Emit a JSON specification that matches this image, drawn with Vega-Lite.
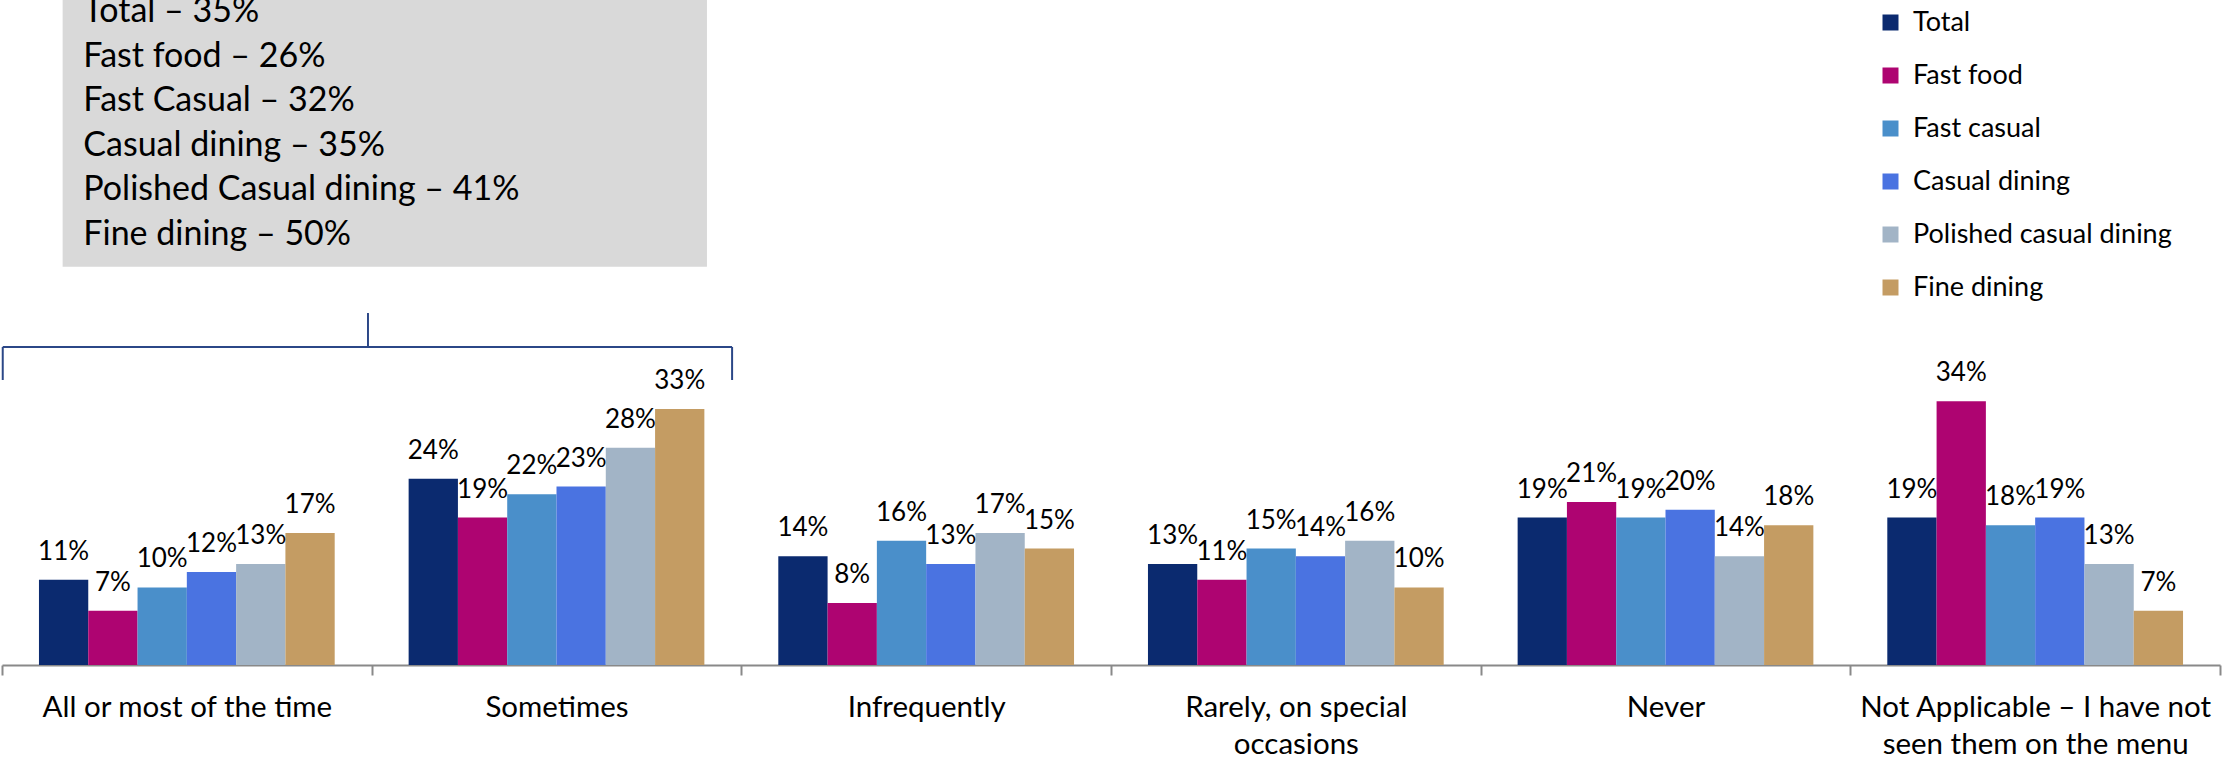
{
  "$schema": "https://vega.github.io/schema/vega-lite/v6.json",
  "width": 2218,
  "height": 665,
  "autosize": {"type": "none"},
  "padding": {"left": 2, "top": 0, "right": 9, "bottom": 99},
  "background": "white",
  "config": {"view": {"stroke": null}, "font": "Lato"},
  "resolve": {"scale": {"x": "independent"}},
  "layer": [
    {
      "data": {
        "values": [
          {"freq": "All or most of the time", "segment": "Total", "share": 0.11},
          {"freq": "All or most of the time", "segment": "Fast food", "share": 0.07},
          {"freq": "All or most of the time", "segment": "Fast casual", "share": 0.10},
          {"freq": "All or most of the time", "segment": "Casual dining", "share": 0.12},
          {"freq": "All or most of the time", "segment": "Polished casual dining", "share": 0.13},
          {"freq": "All or most of the time", "segment": "Fine dining", "share": 0.17},
          {"freq": "Sometimes", "segment": "Total", "share": 0.24},
          {"freq": "Sometimes", "segment": "Fast food", "share": 0.19},
          {"freq": "Sometimes", "segment": "Fast casual", "share": 0.22},
          {"freq": "Sometimes", "segment": "Casual dining", "share": 0.23},
          {"freq": "Sometimes", "segment": "Polished casual dining", "share": 0.28},
          {"freq": "Sometimes", "segment": "Fine dining", "share": 0.33},
          {"freq": "Infrequently", "segment": "Total", "share": 0.14},
          {"freq": "Infrequently", "segment": "Fast food", "share": 0.08},
          {"freq": "Infrequently", "segment": "Fast casual", "share": 0.16},
          {"freq": "Infrequently", "segment": "Casual dining", "share": 0.13},
          {"freq": "Infrequently", "segment": "Polished casual dining", "share": 0.17},
          {"freq": "Infrequently", "segment": "Fine dining", "share": 0.15},
          {"freq": "Rarely, on special occasions", "segment": "Total", "share": 0.13},
          {"freq": "Rarely, on special occasions", "segment": "Fast food", "share": 0.11},
          {"freq": "Rarely, on special occasions", "segment": "Fast casual", "share": 0.15},
          {"freq": "Rarely, on special occasions", "segment": "Casual dining", "share": 0.14},
          {"freq": "Rarely, on special occasions", "segment": "Polished casual dining", "share": 0.16},
          {"freq": "Rarely, on special occasions", "segment": "Fine dining", "share": 0.10},
          {"freq": "Never", "segment": "Total", "share": 0.19},
          {"freq": "Never", "segment": "Fast food", "share": 0.21},
          {"freq": "Never", "segment": "Fast casual", "share": 0.19},
          {"freq": "Never", "segment": "Casual dining", "share": 0.20},
          {"freq": "Never", "segment": "Polished casual dining", "share": 0.14},
          {"freq": "Never", "segment": "Fine dining", "share": 0.18},
          {"freq": "Not Applicable – I have not seen them on the menu", "segment": "Total", "share": 0.19},
          {"freq": "Not Applicable – I have not seen them on the menu", "segment": "Fast food", "share": 0.34},
          {"freq": "Not Applicable – I have not seen them on the menu", "segment": "Fast casual", "share": 0.18},
          {"freq": "Not Applicable – I have not seen them on the menu", "segment": "Casual dining", "share": 0.19},
          {"freq": "Not Applicable – I have not seen them on the menu", "segment": "Polished casual dining", "share": 0.13},
          {"freq": "Not Applicable – I have not seen them on the menu", "segment": "Fine dining", "share": 0.07}
        ]
      },
      "encoding": {
        "x": {
          "field": "freq",
          "type": "nominal",
          "sort": ["All or most of the time", "Sometimes", "Infrequently", "Rarely, on special occasions", "Never", "Not Applicable – I have not seen them on the menu"],
          "scale": {"paddingInner": 0, "paddingOuter": 0},
          "axis": {
            "title": null,
            "labelAngle": 0,
            "labelFont": "Lato",
            "labelFontSize": 29.5,
            "labelColor": "#000000",
            "labelPadding": 18,
            "labelLimit": 0,
            "labelLineHeight": 37.5,
            "labelExpr": "datum.value === 'Rarely, on special occasions' ? ['Rarely, on special', 'occasions'] : datum.value === 'Not Applicable – I have not seen them on the menu' ? ['Not Applicable – I have not', 'seen them on the menu'] : datum.value",
            "domainColor": "#898989",
            "domainWidth": 2.2,
            "tickColor": "#898989",
            "tickWidth": 2,
            "tickSize": 10,
            "tickBand": "extent",
            "grid": false
          }
        },
        "xOffset": {
          "field": "segment",
          "type": "nominal",
          "sort": ["Total", "Fast food", "Fast casual", "Casual dining", "Polished casual dining", "Fine dining"],
          "scale": {"paddingInner": 0, "paddingOuter": 0.75}
        },
        "y": {
          "field": "share",
          "type": "quantitative",
          "scale": {"domain": [0, 0.857], "nice": false, "zero": true},
          "axis": null
        }
      },
      "layer": [
        {
          "mark": {"type": "bar"},
          "encoding": {
            "color": {
              "field": "segment",
              "type": "nominal",
              "sort": ["Total", "Fast food", "Fast casual", "Casual dining", "Polished casual dining", "Fine dining"],
              "scale": {
                "domain": ["Total", "Fast food", "Fast casual", "Casual dining", "Polished casual dining", "Fine dining"],
                "range": ["#0B2A6F", "#AE0471", "#4A8FCA", "#4A73E1", "#A2B4C6", "#C49C63"]
              },
              "legend": {
                "orient": "none",
                "legendX": 1875,
                "legendY": 9,
                "title": null,
                "padding": 0,
                "symbolType": "square",
                "symbolSize": 256,
                "symbolStrokeWidth": 0,
                "labelFont": "Lato",
                "labelFontSize": 27,
                "labelColor": "#000000",
                "labelOffset": 9,
                "labelLimit": 0,
                "rowPadding": 25
              }
            }
          }
        },
        {
          "mark": {"type": "text", "baseline": "alphabetic", "dy": -20, "fontSize": 26, "font": "Lato", "color": "#000000"},
          "encoding": {
            "text": {"field": "share", "type": "quantitative", "format": ".0%"}
          }
        }
      ]
    },
    {
      "data": {"values": [{}]},
      "layer": [
        {
          "mark": {"type": "rect", "color": "#D9D9D9"},
          "encoding": {
            "x": {"datum": 0.164, "type": "quantitative", "scale": {"domain": [0, 6], "nice": false, "zero": false}, "axis": null},
            "x2": {"datum": 1.907},
            "y": {"datum": 0.5133, "type": "quantitative", "scale": {"domain": [0, 0.857], "nice": false, "zero": true}, "axis": null},
            "y2": {"datum": 0.857}
          }
        },
        {
          "mark": {"type": "text", "align": "left", "baseline": "alphabetic", "fontSize": 34, "font": "Lato", "lineHeight": 44.5, "color": "#000000"},
          "encoding": {
            "x": {"datum": 0.22, "type": "quantitative", "scale": {"domain": [0, 6], "nice": false, "zero": false}, "axis": null},
            "y": {"datum": 0.8286, "type": "quantitative", "scale": {"domain": [0, 0.857], "nice": false, "zero": true}, "axis": null},
            "text": {"value": ["Total – 35%", "Fast food – 26%", "Fast Casual – 32%", "Casual dining – 35%", "Polished Casual dining – 41%", "Fine dining – 50%"]}
          }
        },
        {
          "mark": {"type": "rule", "color": "#2B4787", "strokeWidth": 2},
          "encoding": {
            "x": {"datum": 0.002, "type": "quantitative", "scale": {"domain": [0, 6], "nice": false, "zero": false}, "axis": null},
            "x2": {"datum": 1.975},
            "y": {"datum": 0.4098, "type": "quantitative", "scale": {"domain": [0, 0.857], "nice": false, "zero": true}, "axis": null}
          }
        },
        {
          "mark": {"type": "rule", "color": "#2B4787", "strokeWidth": 2},
          "encoding": {
            "x": {"datum": 0.002, "type": "quantitative", "scale": {"domain": [0, 6], "nice": false, "zero": false}, "axis": null},
            "y": {"datum": 0.4098, "type": "quantitative", "scale": {"domain": [0, 0.857], "nice": false, "zero": true}, "axis": null},
            "y2": {"datum": 0.3673}
          }
        },
        {
          "mark": {"type": "rule", "color": "#2B4787", "strokeWidth": 2},
          "encoding": {
            "x": {"datum": 1.975, "type": "quantitative", "scale": {"domain": [0, 6], "nice": false, "zero": false}, "axis": null},
            "y": {"datum": 0.4098, "type": "quantitative", "scale": {"domain": [0, 0.857], "nice": false, "zero": true}, "axis": null},
            "y2": {"datum": 0.3673}
          }
        },
        {
          "mark": {"type": "rule", "color": "#2B4787", "strokeWidth": 2},
          "encoding": {
            "x": {"datum": 0.99, "type": "quantitative", "scale": {"domain": [0, 6], "nice": false, "zero": false}, "axis": null},
            "y": {"datum": 0.4098, "type": "quantitative", "scale": {"domain": [0, 0.857], "nice": false, "zero": true}, "axis": null},
            "y2": {"datum": 0.4536}
          }
        }
      ]
    }
  ]
}
